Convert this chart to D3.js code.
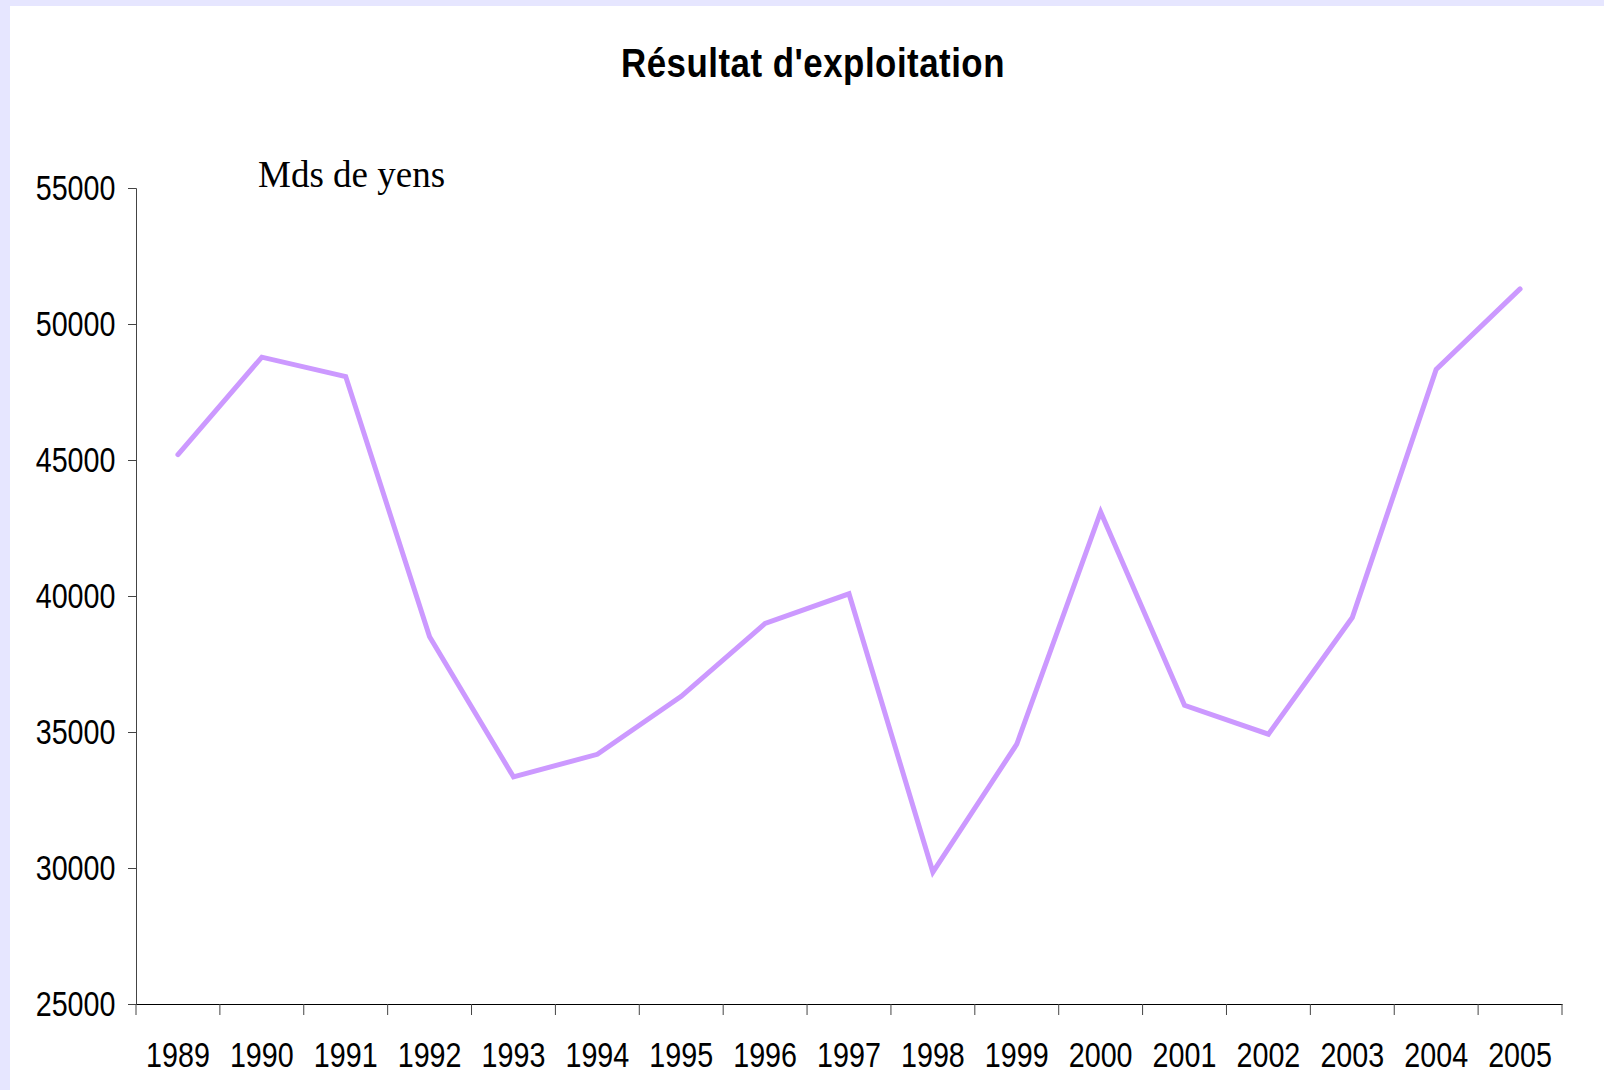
<!DOCTYPE html>
<html>
<head>
<meta charset="utf-8">
<script src="https://cdn.jsdelivr.net/npm/d3@7"></script>
<style>
  html, body { margin: 0; padding: 0; background: #e6e6ff; }
  svg { display: block; }
</style>
</head>
<body>
<svg id="chart"></svg>
<script>
const years = ['1989', '1990', '1991', '1992', '1993', '1994', '1995', '1996', '1997',
  '1998', '1999', '2000', '2001', '2002', '2003', '2004', '2005'];
const resultat = [45200, 48780, 48070, 38500, 33350, 34180, 36310, 38990, 40080,
  29850, 34550, 43090, 35980, 34920, 39210, 48330, 51290];
const yTicks = [25000, 30000, 35000, 40000, 45000, 50000, 55000];

const width = 1604;
const height = 1090;
const margin = { top: 188, right: 42, bottom: 86, left: 136 };

const svg = d3.select('#chart')
  .attr('width', width)
  .attr('height', height);

// white chart area inside the lavender frame
svg.append('rect')
  .attr('x', 10)
  .attr('y', 6)
  .attr('width', width - 10)
  .attr('height', height - 6)
  .attr('fill', '#fff');

const x = d3.scaleBand()
  .domain(years)
  .range([margin.left, width - margin.right])
  .padding(0);

const y = d3.scaleLinear()
  .domain([25000, 55000])
  .range([height - margin.bottom, margin.top]);

// no narrow face installed, so squeeze the sans horizontally
const sansFont = '"Liberation Sans Narrow", "Liberation Sans", Arial, sans-serif';
const narrow = 'scale(0.82,1)';

// y axis
const yAxis = svg.append('g')
  .attr('transform', `translate(${margin.left},0)`)
  .call(d3.axisLeft(y).tickValues(yTicks).tickSize(8).tickPadding(17).tickFormat(d3.format('d')));
yAxis.select('.domain').attr('stroke', '#444');
yAxis.selectAll('.tick line').attr('stroke', '#444');
yAxis.selectAll('text')
  .attr('font-family', sansFont)
  .attr('font-size', 35)
  .attr('fill', '#000')
  .attr('transform', narrow);

// x axis, ticks on band edges
const xAxis = svg.append('g')
  .attr('transform', `translate(0,${height - margin.bottom})`)
  .call(d3.axisBottom(x).tickSize(0).tickPadding(38).tickSizeOuter(0));
xAxis.select('.domain').attr('stroke', '#000');
xAxis.selectAll('text')
  .attr('font-family', sansFont)
  .attr('font-size', 35)
  .attr('fill', '#000')
  .attr('transform', narrow);

const edges = years.map((d) => x(d)).concat([x.range()[1]]);
xAxis.selectAll('line.edge')
  .data(edges)
  .join('line')
  .attr('class', 'edge')
  .attr('x1', (d) => d)
  .attr('x2', (d) => d)
  .attr('y1', 0)
  .attr('y2', 11)
  .attr('stroke', '#444');

// the series
const line = d3.line()
  .x((d, i) => x(years[i]) + x.bandwidth() / 2)
  .y((d) => y(d));

svg.append('path')
  .datum(resultat)
  .attr('fill', 'none')
  .attr('stroke', '#cc99ff')
  .attr('stroke-width', 5)
  .attr('stroke-linejoin', 'miter')
  .attr('stroke-linecap', 'round')
  .attr('d', line);

// title
svg.append('text')
  .attr('transform', 'translate(813,77) scale(0.85,1)')
  .attr('text-anchor', 'middle')
  .attr('font-family', sansFont)
  .attr('font-weight', 'bold')
  .attr('font-size', 41)
  .attr('letter-spacing', 0.6)
  .text("Résultat d'exploitation");

// unit label
svg.append('text')
  .attr('x', 258)
  .attr('y', 187)
  .attr('font-family', '"Liberation Serif", "Times New Roman", serif')
  .attr('font-size', 37)
  .text('Mds de yens');
</script>
</body>
</html>
